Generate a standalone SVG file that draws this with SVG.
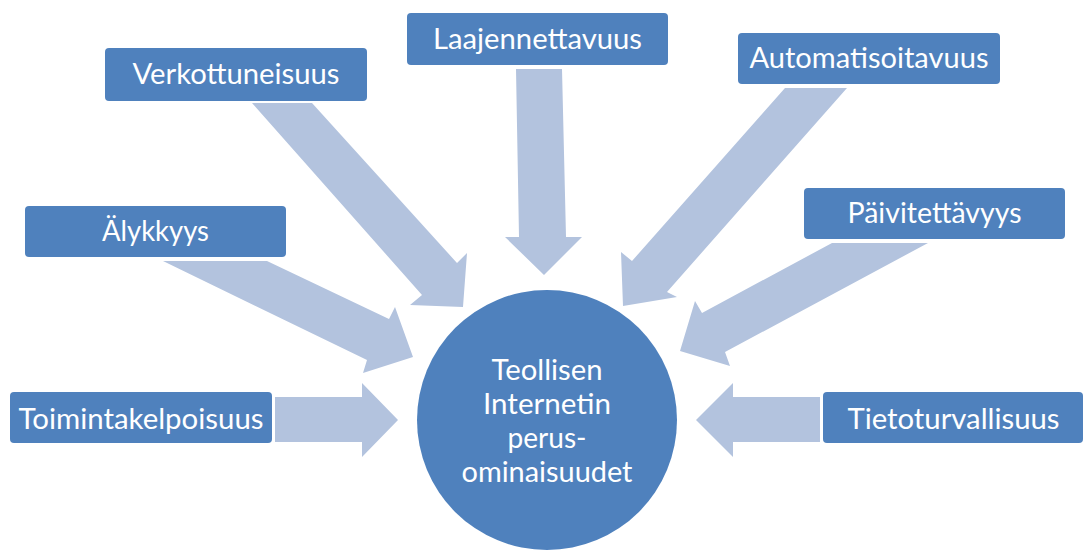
<svg xmlns="http://www.w3.org/2000/svg" width="1084" height="550" viewBox="0 0 1084 550">
  <style>
    .box { fill: #4F81BD; }
    .hub { fill: #4F81BD; }
    .arrow { fill: #B3C3DE; }
    .label { font-family: Lato, "Liberation Sans", sans-serif; font-size: 29px; fill: #FFFFFF; text-anchor: middle; }
  </style>
  <rect width="1084" height="550" fill="#FFFFFF"/>

  <!-- block arrows pointing in to the hub -->
  <g id="connectors">
    <polygon class="arrow" points="275,397 362,397 362,383 398,420 362,457 362,442 275,442"/>
    <polygon class="arrow" points="820,397 733,397 733,383 696,420 733,457 733,442 820,442"/>
    <polygon class="arrow" points="516,69 562,69 566,237 582,237 544,275 505,237 519,237"/>
    <polygon class="arrow" points="252,103 312,103 457,263 467,253 463,307 410,305 422,295"/>
    <polygon class="arrow" points="785,88 847,88 667,292 677,297 623,306 621,252 632,261"/>
    <polygon class="arrow" points="163,261 267,261 389,319 395,307 413,357 363,373 367,360"/>
    <polygon class="arrow" points="832,243 928,243 725,352 730,366 680,351 695,301 702,313"/>
  </g>

  <g id="hub">
    <circle class="hub" cx="547" cy="420" r="130"/>
    <text class="label" x="547" y="380" textLength="111" lengthAdjust="spacingAndGlyphs">Teollisen</text>
    <text class="label" x="547" y="414" textLength="128" lengthAdjust="spacingAndGlyphs">Internetin</text>
    <text class="label" x="547" y="448" textLength="79" lengthAdjust="spacingAndGlyphs">perus-</text>
    <text class="label" x="547" y="482" textLength="171" lengthAdjust="spacingAndGlyphs">ominaisuudet</text>
  </g>

  <g id="toimintakelpoisuus">
    <rect class="box" x="10" y="392" width="262" height="51" rx="4"/>
    <text class="label" x="141" y="429" textLength="245" lengthAdjust="spacingAndGlyphs">Toimintakelpoisuus</text>
  </g>

  <g id="alykkyys">
    <rect class="box" x="25" y="206" width="261" height="51" rx="4"/>
    <text class="label" x="155.5" y="241" textLength="107" lengthAdjust="spacingAndGlyphs">Älykkyys</text>
  </g>

  <g id="verkottuneisuus">
    <rect class="box" x="105" y="48" width="262" height="53" rx="4"/>
    <text class="label" x="236" y="84" textLength="207" lengthAdjust="spacingAndGlyphs">Verkottuneisuus</text>
  </g>

  <g id="laajennettavuus">
    <rect class="box" x="407" y="13" width="261" height="52" rx="4"/>
    <text class="label" x="537.5" y="49" textLength="209" lengthAdjust="spacingAndGlyphs">Laajennettavuus</text>
  </g>

  <g id="automatisoitavuus">
    <rect class="box" x="738" y="33" width="262" height="51" rx="4"/>
    <text class="label" x="869" y="68" textLength="239" lengthAdjust="spacingAndGlyphs">Automatisoitavuus</text>
  </g>

  <g id="paivitettavyys">
    <rect class="box" x="804" y="188" width="261" height="51" rx="4"/>
    <text class="label" x="934.5" y="223" textLength="174" lengthAdjust="spacingAndGlyphs">Päivitettävyys</text>
  </g>

  <g id="tietoturvallisuus">
    <rect class="box" x="823" y="392" width="260" height="51" rx="4"/>
    <text class="label" x="953.5" y="429" textLength="212" lengthAdjust="spacingAndGlyphs">Tietoturvallisuus</text>
  </g>
</svg>
